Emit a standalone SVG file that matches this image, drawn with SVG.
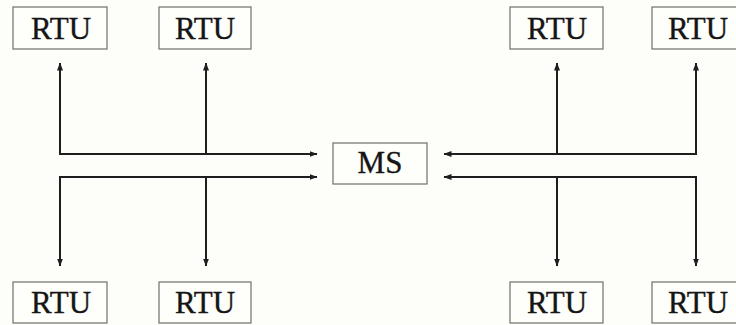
<svg xmlns="http://www.w3.org/2000/svg" width="736" height="325" viewBox="0 0 736 325">
  <style>
    .box { fill: #fefefb; stroke: #6e6e6e; stroke-width: 1.2; }
    .lbl { font-family: "Liberation Serif", "Times New Roman", serif; font-size: 31px; fill: #151515; stroke: #151515; stroke-width: 0.35; text-anchor: middle; }
    .wire { fill: none; stroke: #1e1e1e; stroke-width: 2; stroke-linejoin: miter; }
  </style>
  <defs>
    <marker id="tip" viewBox="0 0 8 6" refX="7.5" refY="3" markerWidth="8" markerHeight="6" markerUnits="userSpaceOnUse" orient="auto">
      <path d="M0,0 L8,3 L0,6 Z" fill="#1e1e1e"/>
    </marker>
  </defs>
  <rect width="736" height="325" fill="#fdfdf9"/>

  <!-- remote terminal units, top row -->
  <g id="rtu-top-1"><rect class="box" x="13" y="7" width="94" height="42"/><text class="lbl" x="61" y="39">RTU</text></g>
  <g id="rtu-top-2"><rect class="box" x="159" y="7" width="92" height="42"/><text class="lbl" x="205" y="39">RTU</text></g>
  <g id="rtu-top-3"><rect class="box" x="510" y="7" width="93" height="42"/><text class="lbl" x="557" y="39">RTU</text></g>
  <g id="rtu-top-4"><rect class="box" x="652" y="7" width="93" height="42"/><text class="lbl" x="698" y="39">RTU</text></g>

  <!-- master station -->
  <g id="ms"><rect class="box" x="333" y="143" width="94" height="41"/><text class="lbl" x="380" y="173">MS</text></g>

  <!-- remote terminal units, bottom row -->
  <g id="rtu-bot-1"><rect class="box" x="13" y="282" width="94" height="41"/><text class="lbl" x="61" y="313">RTU</text></g>
  <g id="rtu-bot-2"><rect class="box" x="159" y="282" width="92" height="41"/><text class="lbl" x="205" y="313">RTU</text></g>
  <g id="rtu-bot-3"><rect class="box" x="510" y="282" width="93" height="41"/><text class="lbl" x="557" y="313">RTU</text></g>
  <g id="rtu-bot-4"><rect class="box" x="652" y="282" width="93" height="41"/><text class="lbl" x="698" y="313">RTU</text></g>

  <!-- connectors -->
  <g id="connectors">
    <path class="wire" d="M60,154 H317" marker-end="url(#tip)"/>
    <path class="wire" d="M60,155 V63" marker-end="url(#tip)"/>
    <path class="wire" d="M206,154 V63" marker-end="url(#tip)"/>

    <path class="wire" d="M60,177 H317" marker-end="url(#tip)"/>
    <path class="wire" d="M60,176 V266" marker-end="url(#tip)"/>
    <path class="wire" d="M206,177 V266" marker-end="url(#tip)"/>

    <path class="wire" d="M696,154 H444" marker-end="url(#tip)"/>
    <path class="wire" d="M696,155 V63" marker-end="url(#tip)"/>
    <path class="wire" d="M557,154 V63" marker-end="url(#tip)"/>

    <path class="wire" d="M696,177 H444" marker-end="url(#tip)"/>
    <path class="wire" d="M696,176 V266" marker-end="url(#tip)"/>
    <path class="wire" d="M557,177 V266" marker-end="url(#tip)"/>
  </g>
</svg>
